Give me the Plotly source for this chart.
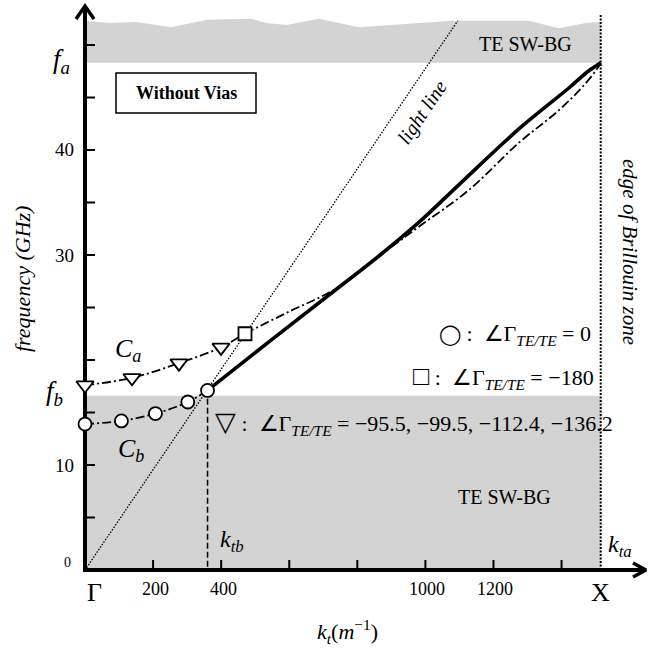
import plotly.graph_objects as go

# ---------------- data ----------------
k_X = 1515            # X point / edge of Brillouin zone
k_tb = 360            # k_tb
f_a = 48.3            # upper band-gap edge (GHz)
f_b = 16.6            # lower band-gap edge (GHz)
edge_top = 52.9

# wavy top of the upper TE SW-BG region
band_top_x = [0, 70, 150, 253, 358, 488, 532, 593, 687, 805, 1078, 1304, 1392, 1472, 1515]
band_top_y = [52.3, 52.1, 52.2, 51.7, 52.4, 52.5, 52.1, 51.9, 52.5, 51.7, 52.3, 52.3, 51.6, 52.1, 52.2]

# light line
light_x = [0, 1095]
light_y = [0, 52.3]

# C_b : circles (angle = 0)
cb_x = [0, 107, 207, 302, 360]
cb_y = [13.9, 14.2, 14.9, 16.0, 17.1]

# C_a : triangles (angle = -95.5, -99.5, -112.4, -136.2) and square (-180)
tri_x = [0, 138, 276, 399.5]
tri_y = [17.6, 18.3, 19.7, 21.2]
sq_x = [470]
sq_y = [22.5]

# dash-dot continuation of C_a up to X
ca_x = [0, 138, 276, 399.5, 470, 599, 731.5, 893, 981, 1128, 1275, 1392.5, 1472, 1510, 1515]
ca_y = [17.6, 18.3, 19.7, 21.2, 22.5, 24.6, 26.7, 30.6, 32.7, 36.2, 40.7, 43.8, 46.4, 48.0, 48.3]

# solid dispersion curve
sol_x = [360, 543, 729, 867, 984, 1102, 1278, 1425, 1478, 1501, 1515]
sol_y = [17.1, 21.8, 26.5, 30.0, 33.2, 36.8, 42.1, 46.0, 47.5, 48.0, 48.3]

# ticks
xtick_vals = [200, 400, 600, 800, 1000, 1200, 1400]
xtick_text = ["200", "400", "", "", "1000", "1200", ""]
ytick_vals = [5, 10, 15, 20, 25, 30, 35, 40, 45, 50]
ytick_text = ["", "10", "", "", "", "30", "", "40", "", ""]

# ---------------- geometry ----------------
W = H = 649
L, R, T, B = 70, 1, 2, 67
X0PX, Y0PX = 85, 570       # pixel position of the origin
SX, SY = 0.3404, 10.5      # px per k-unit, px per GHz
xr = [(L - X0PX) / SX, (W - R - X0PX) / SX]
yr = [(Y0PX - (H - B)) / SY, (Y0PX - T) / SY]


def dx(px):
    return px / SX


def dy(px):
    return px / SY


def d(xp, yp):
    return (xp - X0PX) / SX, (Y0PX - yp) / SY


def ppx(xp):   # pixel x -> paper
    return (xp - L) / (W - L - R)


def ppy(yp):   # pixel y -> paper
    return (H - B - yp) / (H - T - B)


def vx(v):     # data x -> paper
    return (v - xr[0]) / (xr[1] - xr[0])


def vy(v):     # data y -> paper
    return (v - yr[0]) / (yr[1] - yr[0])


SERIF = "Liberation Serif, Times New Roman, serif"
GREY = "#d3d3d3"

fig = go.Figure()

# grey band-gap regions
fig.add_trace(go.Scatter(x=[0, k_X, k_X, 0, 0], y=[0, 0, f_b, f_b, 0], fill="toself",
                         fillcolor=GREY, line=dict(width=0), mode="lines", hoverinfo="skip"))
up_x = [0, k_X] + band_top_x[::-1] + [0]
up_y = [f_a, f_a] + band_top_y[::-1] + [f_a]
fig.add_trace(go.Scatter(x=up_x, y=up_y, fill="toself", fillcolor=GREY,
                         line=dict(width=0), mode="lines", hoverinfo="skip"))

# light line
fig.add_trace(go.Scatter(x=light_x, y=light_y, mode="lines",
                         line=dict(color="black", width=1.3, dash="1.5px,1.5px")))
# edge of Brillouin zone
fig.add_trace(go.Scatter(x=[k_X, k_X], y=[0, edge_top], mode="lines",
                         line=dict(color="black", width=2, dash="2px,1.5px")))
# k_tb dashed
fig.add_trace(go.Scatter(x=[k_tb, k_tb], y=[0.3, cb_y[-1]], mode="lines",
                         line=dict(color="black", width=1.5, dash="6px,3px")))
# dash-dot curves
DD = "9px,3px,2px,3px"
fig.add_trace(go.Scatter(x=cb_x, y=cb_y, mode="lines", line_shape="spline",
                         line=dict(color="black", width=1.8, dash=DD)))
fig.add_trace(go.Scatter(x=ca_x, y=ca_y, mode="lines", line_shape="spline",
                         line=dict(color="black", width=1.8, dash=DD)))
# solid curve
fig.add_trace(go.Scatter(x=sol_x, y=sol_y, mode="lines", line_shape="spline",
                         line=dict(color="black", width=3.6)))

# axes (lines, ticks, arrowheads)
x_tip = (W - 3 - X0PX) / SX
y_tip = (Y0PX - 6) / SY
fig.add_trace(go.Scatter(x=[0, 0], y=[-dy(2), y_tip], mode="lines",
                         line=dict(color="black", width=4)))
fig.add_trace(go.Scatter(x=[-dx(2), x_tip], y=[0, 0], mode="lines",
                         line=dict(color="black", width=4)))
fig.add_trace(go.Scatter(x=[-dx(9), 0, dx(9)], y=[y_tip - dy(13), y_tip, y_tip - dy(13)],
                         mode="lines", line=dict(color="black", width=3.5)))
fig.add_trace(go.Scatter(x=[x_tip - dx(13), x_tip, x_tip - dx(13)], y=[dy(7), 0, -dy(7)],
                         mode="lines", line=dict(color="black", width=3.5)))
tx, ty = [], []
for v in xtick_vals:
    tx += [v, v, None]
    ty += [0, dy(10), None]
for v in ytick_vals:
    tx += [0, dx(10), None]
    ty += [v, v, None]
fig.add_trace(go.Scatter(x=tx, y=ty, mode="lines", line=dict(color="black", width=2)))

# markers
mk = dict(color="white", line=dict(color="black", width=1.8))
fig.add_trace(go.Scatter(x=cb_x, y=cb_y, mode="markers", cliponaxis=False,
                         marker=dict(symbol="circle", size=13, **mk)))
fig.add_trace(go.Scatter(x=tri_x, y=tri_y, mode="markers", cliponaxis=False,
                         marker=dict(symbol="triangle-down", size=15, **mk)))
fig.add_trace(go.Scatter(x=sq_x, y=sq_y, mode="markers", cliponaxis=False,
                         marker=dict(symbol="square", size=13, **mk)))

# ---------------- text (paper coordinates) ----------------
ann = []


def txt(x, y, text, size, xanchor="center", yanchor="middle", angle=0, **kw):
    ann.append(dict(x=x, y=y, xref="paper", yref="paper", text=text, showarrow=False,
                    xanchor=xanchor, yanchor=yanchor, textangle=angle,
                    font=dict(family=SERIF, size=size, color="black"), **kw))


# tick labels
for v, t in zip(xtick_vals, xtick_text):
    if t:
        txt(vx(v), ppy(589), t, 18, xshift=2)
for v, t in zip(ytick_vals, ytick_text):
    if t:
        txt(ppx(76), vy(v), t, 19, xanchor="right")
txt(ppx(73), ppy(562), "0", 14, xanchor="right")
txt(ppx(72), vy(f_a), "<i>f<sub>a</sub></i>", 27, xanchor="right", yshift=2)
txt(ppx(65), vy(f_b), "<i>f<sub>b</sub></i>", 27, xanchor="right", yshift=3)
txt(vx(0), ppy(592), "Γ", 26, xshift=9)
txt(vx(k_X), ppy(592), "X", 26)
txt(ppx(347), ppy(631), "<i>k<sub>t</sub></i>(<i>m</i><sup>−1</sup>)", 22)
txt(ppx(22), ppy(279), "<i>frequency (GHz)</i>", 22, angle=-90)
txt(ppx(630), ppy(252), "<i>edge of Brillouin zone</i>", 21, angle=90)
txt(ppx(422), ppy(112), "<i>light line</i>", 20, angle=-56)
txt(ppx(525), ppy(44), "TE SW-BG", 20)
txt(ppx(504), ppy(497), "TE SW-BG", 20)
txt(ppx(186), ppy(93), "<b>Without Vias</b>", 18)
txt(ppx(128), ppy(350), "<i>C<sub>a</sub></i>", 26)
txt(ppx(131), ppy(450), "<i>C<sub>b</sub></i>", 26)
txt(ppx(218), ppy(541), "<i>k<sub>tb</sub></i>", 24, xanchor="left")
txt(ppx(606), ppy(546), "<i>k<sub>ta</sub></i>", 24, xanchor="left")
SUB = "<sub><i>TE/TE</i></sub>"
BIG = '<span style="font-size:{}px">{}</span>'
txt(ppx(593), ppy(335), BIG.format(20, "◯") + " :  ∠Γ" + SUB + " = 0", 22, xanchor="right")
txt(ppx(596), ppy(377), BIG.format(27, "□") + " :  ∠Γ" + SUB + " = −180", 22, xanchor="right")
txt(ppx(213), ppy(423), BIG.format(27, "▽") + " :  ∠Γ" + SUB + " = −95.5, −99.5, −112.4, −136.2",
    22, xanchor="left")

x0b, y0b = d(116, 113)
x1b, y1b = d(256, 73)
shapes = [dict(type="rect", xref="x", yref="y", x0=x0b, y0=y0b, x1=x1b, y1=y1b,
               line=dict(color="black", width=1.5), fillcolor="white", layer="below")]

fig.update_layout(
    width=W, height=H, margin=dict(l=L, r=R, t=T, b=B),
    paper_bgcolor="white", plot_bgcolor="white", showlegend=False,
    annotations=ann, shapes=shapes,
    xaxis=dict(range=xr, visible=False, fixedrange=True),
    yaxis=dict(range=yr, visible=False, fixedrange=True),
)
fig.write_html("out.html", config={"displayModeBar": False},
               post_script="document.body.style.margin='0px';")
